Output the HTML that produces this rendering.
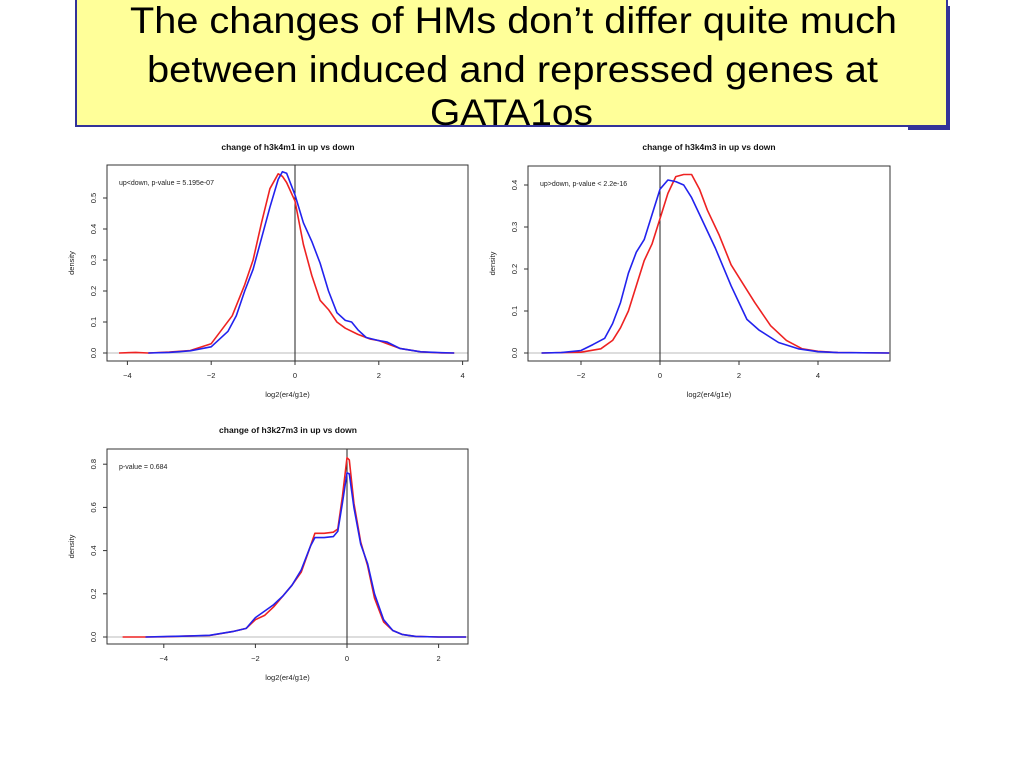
<!DOCTYPE html>
<html><head><meta charset="utf-8"><style>
body{margin:0;background:#fff;width:1024px;height:768px;overflow:hidden;font-family:"Liberation Sans",sans-serif}
svg text{font-family:"Liberation Sans",sans-serif}
</style></head><body>
<svg id="root" width="1024" height="768" viewBox="0 0 1024 768" xmlns="http://www.w3.org/2000/svg">
<rect x="908" y="6" width="42" height="124" fill="#333399"/>
<rect x="76" y="-2" width="871" height="128" fill="#ffff99" stroke="#333399" stroke-width="2"/>
<g font-size="37" fill="#000" text-anchor="start">
<text x="130" y="33" textLength="767" lengthAdjust="spacingAndGlyphs">The changes of HMs don’t differ quite much</text>
<text x="147" y="82" textLength="731" lengthAdjust="spacingAndGlyphs">between induced and repressed genes at</text>
<text x="430" y="125" textLength="163" lengthAdjust="spacingAndGlyphs">GATA1os</text>
</g>
<rect x="75" y="127" width="833" height="10" fill="#fff"/>
<g id="charts"></g>
</svg>
<script>
// Chart 1: h3k4m1
const c1X_red=[-4.2,-3.8,-3.5,-3,-2.5,-2,-1.5,-1.2,-1,-0.8,-0.6,-0.4,-0.3,-0.2,0,0.2,0.4,0.6,0.8,1.0,1.2,1.5,1.8,2,2.2,2.5,3,3.5,3.8];
const c1Y_red=[0,0.002,0,0.003,0.008,0.03,0.12,0.22,0.3,0.42,0.53,0.578,0.57,0.55,0.49,0.35,0.25,0.17,0.14,0.1,0.08,0.06,0.045,0.04,0.03,0.015,0.004,0,0];
const c1X_blue=[-3.5,-3,-2.5,-2,-1.6,-1.4,-1.2,-1,-0.8,-0.6,-0.4,-0.3,-0.2,0,0.2,0.4,0.6,0.8,1.0,1.2,1.35,1.5,1.7,2,2.2,2.5,3,3.5,3.8];
const c1Y_blue=[0,0.002,0.007,0.02,0.07,0.12,0.2,0.27,0.37,0.47,0.56,0.585,0.58,0.51,0.42,0.36,0.29,0.2,0.13,0.105,0.1,0.075,0.05,0.04,0.035,0.015,0.004,0.001,0];
const c1XTicks=[-4,-2,0,2,4];
const c1YTicks=[0,0.1,0.2,0.3,0.4,0.5];
// Chart 2: h3k4m3
const c2X_red=[-3,-2,-1.5,-1.2,-1,-0.8,-0.6,-0.4,-0.2,0,0.2,0.4,0.6,0.8,1,1.2,1.5,1.8,2,2.4,2.8,3.2,3.6,4,4.5,5.8];
const c2Y_red=[0,0.002,0.01,0.03,0.06,0.1,0.16,0.22,0.26,0.32,0.38,0.42,0.425,0.425,0.39,0.34,0.28,0.21,0.18,0.12,0.065,0.03,0.01,0.004,0.001,0];
const c2X_blue=[-3,-2.5,-2,-1.7,-1.4,-1.2,-1,-0.8,-0.6,-0.4,-0.2,0,0.2,0.4,0.6,0.8,1,1.4,1.8,2,2.2,2.5,3,3.5,4,4.5,5.8];
const c2Y_blue=[0,0.001,0.006,0.02,0.035,0.07,0.12,0.19,0.24,0.27,0.33,0.39,0.412,0.408,0.4,0.37,0.33,0.25,0.16,0.12,0.08,0.055,0.025,0.01,0.003,0.001,0];
const c2XTicks=[-2,0,2,4];
const c2YTicks=[0,0.1,0.2,0.3,0.4];
// Chart 3: h3k27m3
const c3X_red=[-4.9,-4.4,-4,-3.5,-3,-2.5,-2.2,-2,-1.8,-1.6,-1.4,-1.2,-1,-0.8,-0.7,-0.5,-0.3,-0.2,-0.1,0,0.05,0.15,0.3,0.45,0.6,0.8,1,1.2,1.5,2,2.6];
const c3Y_red=[0,0,0.001,0.004,0.007,0.025,0.04,0.08,0.1,0.14,0.19,0.24,0.3,0.42,0.48,0.48,0.485,0.5,0.65,0.83,0.82,0.62,0.44,0.33,0.18,0.07,0.03,0.012,0.003,0,0];
const c3X_blue=[-4.4,-4,-3.5,-3,-2.5,-2.2,-2,-1.8,-1.6,-1.4,-1.2,-1,-0.8,-0.7,-0.5,-0.3,-0.2,-0.1,0,0.05,0.15,0.3,0.45,0.6,0.8,1,1.2,1.5,2,2.6];
const c3Y_blue=[0,0.002,0.004,0.008,0.025,0.04,0.09,0.12,0.15,0.19,0.24,0.31,0.42,0.46,0.46,0.465,0.49,0.62,0.76,0.755,0.6,0.43,0.34,0.2,0.08,0.03,0.012,0.003,0,0];
const c3XTicks=[-4,-2,0,2];
const c3YTicks=[0,0.2,0.4,0.6,0.8];

const NS="http://www.w3.org/2000/svg";
const root=document.getElementById('charts');
function mk(tag,attrs,parent){const e=document.createElementNS(NS,tag);for(const k in attrs)e.setAttribute(k,attrs[k]);parent.appendChild(e);return e;}

function chart(cfg){
  const g=mk('g',{},root);
  
  
  const sx=v=>cfg.x0+v*cfg.xs, sy=v=>cfg.y0-v*cfg.ys;
  const t=mk('text',{x:cfg.tx,y:cfg.ty,'text-anchor':'middle','font-size':'8.5','font-weight':'bold',fill:'#111'},g);
  
  
  t.textContent=cfg.title;
  const zl=mk('line',{x1:cfg.L,x2:cfg.R,y1:sy(0),y2:sy(0),stroke:'#bbb','stroke-width':1},g);
  
  
  const vl=mk('line',{x1:sx(0),x2:sx(0),y1:cfg.T,y2:cfg.B,stroke:'#222','stroke-width':1},g);
  
  
  [['red',cfg.rx,cfg.ry,'#ee2222'],['blue',cfg.bx,cfg.by,'#2222ee']].forEach(([n,xs,ys,c])=>{
    const p=mk('polyline',{points:xs.map((x,i)=>sx(x).toFixed(1)+','+sy(ys[i]).toFixed(1)).join(' '),fill:'none',stroke:c,'stroke-width':1.6,'stroke-linejoin':'round'},g);
    
    
  });
  const box=mk('rect',{x:cfg.L,y:cfg.T,width:cfg.R-cfg.L,height:cfg.B-cfg.T,fill:'none',stroke:'#333','stroke-width':1},g);
  
  
  cfg.xt.forEach(v=>{
    mk('line',{x1:sx(v),x2:sx(v),y1:cfg.B,y2:cfg.B+4,stroke:'#333'},g);
    const l=mk('text',{x:sx(v),y:cfg.B+17,'text-anchor':'middle','font-size':'7.5',fill:'#222'},g);
    
    
    l.textContent=(v<0?'\u2212'+(-v):v);
  });
  cfg.yt.forEach(v=>{
    mk('line',{x1:cfg.L,x2:cfg.L-4,y1:sy(v),y2:sy(v),stroke:'#333'},g);
    const x=cfg.L-11,y=sy(v);
    const l=mk('text',{x:x,y:y,'text-anchor':'middle','font-size':'7.5',fill:'#222',transform:`rotate(-90 ${x} ${y})`},g);
    
    
    l.textContent=v.toFixed(1);
  });
  const xl=mk('text',{x:(cfg.L+cfg.R)/2,y:cfg.B+36,'text-anchor':'middle','font-size':'7.5',fill:'#222'},g);
  
  
  xl.textContent='log2(er4/g1e)';
  const yx=cfg.L-33,yy=(cfg.T+cfg.B)/2;
  const yl=mk('text',{x:yx,y:yy,'text-anchor':'middle','font-size':'7.5',fill:'#222',transform:`rotate(-90 ${yx} ${yy})`},g);
  
  
  yl.textContent='density';
  const an=mk('text',{x:cfg.L+12,y:cfg.T+20,'font-size':'7',fill:'#222'},g);
  
  
  an.textContent=cfg.note;
}
chart({name:'chart-h3k4m1',title:'change of h3k4m1 in up vs down',tx:288,ty:150,L:107,R:468,T:165,B:361,x0:295,xs:41.9,y0:353,ys:310,
  rx:c1X_red,ry:c1Y_red,bx:c1X_blue,by:c1Y_blue,xt:c1XTicks,yt:c1YTicks,note:'up<down, p-value = 5.195e-07'});
chart({name:'chart-h3k4m3',title:'change of h3k4m3 in up vs down',tx:709,ty:150,L:528,R:890,T:166,B:361,x0:660,xs:39.5,y0:353,ys:420,
  rx:c2X_red,ry:c2Y_red,bx:c2X_blue,by:c2Y_blue,xt:c2XTicks,yt:c2YTicks,note:'up>down, p-value < 2.2e-16'});
chart({name:'chart-h3k27m3',title:'change of h3k27m3 in up vs down',tx:288,ty:433,L:107,R:468,T:449,B:644,x0:347,xs:45.8,y0:637,ys:216,
  rx:c3X_red,ry:c3Y_red,bx:c3X_blue,by:c3Y_blue,xt:c3XTicks,yt:c3YTicks,note:'p-value = 0.684'});
</script>
</body></html>
